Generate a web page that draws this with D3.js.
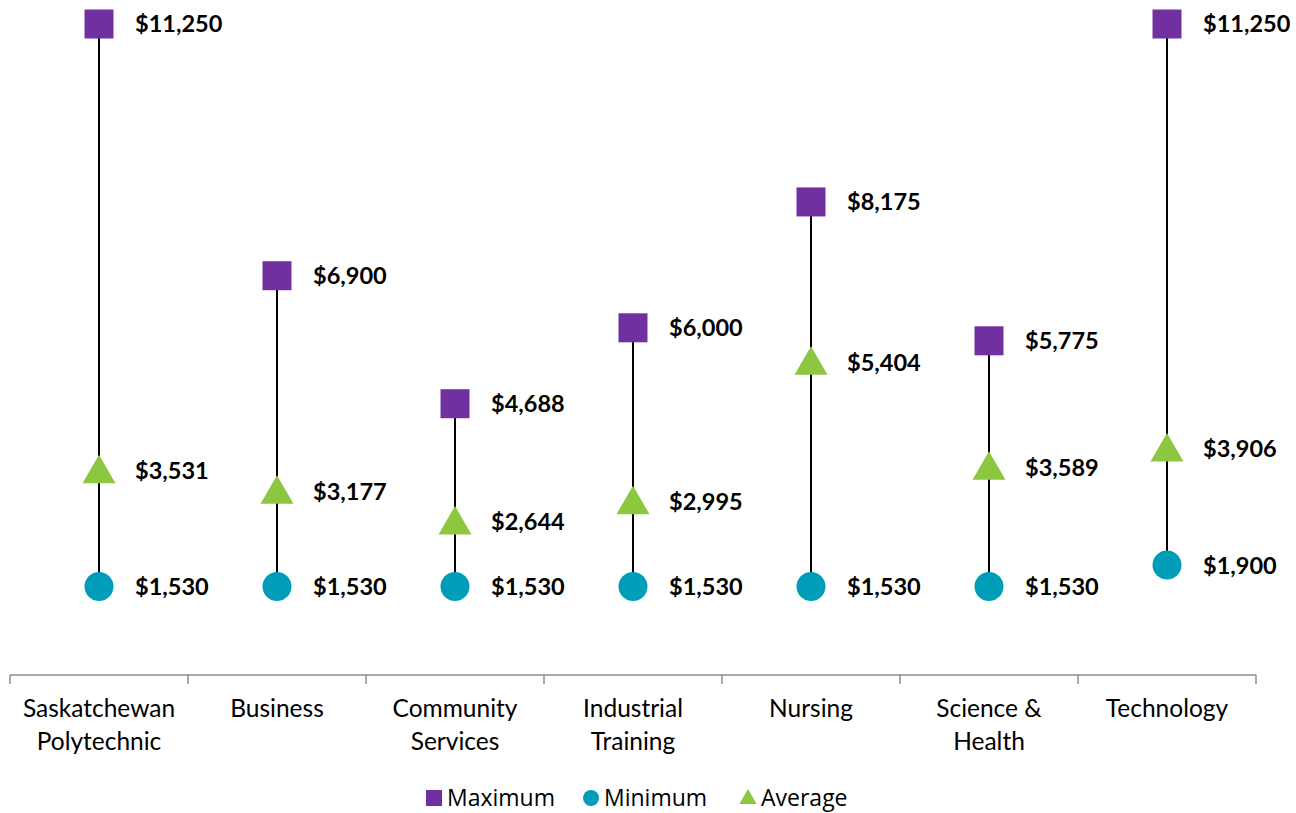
<!DOCTYPE html>
<html>
<head>
<meta charset="utf-8">
<script src="https://cdn.jsdelivr.net/npm/d3@7"></script>
<style>
  body { margin: 0; background: #fff; }
  svg text { font-family: Lato, "Open Sans", sans-serif; }
</style>
</head>
<body>
<svg id="chart" width="1296" height="813"></svg>
<script>
// chart data
const categories = ["Saskatchewan Polytechnic", "Business", "Community Services", "Industrial Training", "Nursing", "Science & Health", "Technology"];
const categoryLines = [["Saskatchewan", "Polytechnic"], ["Business"], ["Community", "Services"], ["Industrial", "Training"], ["Nursing"], ["Science &", "Health"], ["Technology"]];
const maximum = [11250, 6900, 4688, 6000, 8175, 5775, 11250];
const minimum = [1530, 1530, 1530, 1530, 1530, 1530, 1900];
const average = [3531, 3177, 2644, 2995, 5404, 3589, 3906];
const seriesNames = ["Maximum", "Minimum", "Average"];

const colors = {Maximum: "#7030A0", Minimum: "#009DB8", Average: "#8DC63F"};
const symbols = {Maximum: d3.symbolSquare, Minimum: d3.symbolCircle, Average: d3.symbolTriangle};

const svg = d3.select("#chart");
const margin = {left: 10, right: 40, top: 24, bottom: 138};
const width = 1296, height = 813;

const x = d3.scaleBand().domain(categories).range([margin.left, width - margin.right]).padding(0);
const y = d3.scaleLinear().domain([0, 11250]).range([675, 24]);

const fmt = v => "$" + d3.format(",")(v);

// x axis
const xAxis = svg.append("g").attr("transform", `translate(0,${y(0)})`);
xAxis.append("line")
  .attr("x1", x.range()[0]).attr("x2", x.range()[1])
  .attr("stroke", "#8c8c8c").attr("stroke-width", 1.5);
const tickX = categories.map(c => x(c)).concat([x.range()[1]]);
xAxis.selectAll("line.tick").data(tickX).join("line")
  .attr("class", "tick")
  .attr("x1", d => d).attr("x2", d => d)
  .attr("y1", 0).attr("y2", 9)
  .attr("stroke", "#8c8c8c").attr("stroke-width", 1.5);

const labels = xAxis.selectAll("text.cat").data(categories).join("text")
  .attr("class", "cat")
  .attr("x", d => x(d) + x.bandwidth() / 2)
  .attr("y", 42)
  .attr("text-anchor", "middle")
  .attr("font-size", 24.5)
  .attr("fill", "#000");
labels.each(function(d, i) {
  d3.select(this).selectAll("tspan").data(categoryLines[i]).join("tspan")
    .attr("x", x(d) + x.bandwidth() / 2)
    .attr("dy", (t, j) => j === 0 ? 0 : 33)
    .text(t => t);
});

// range lines
const rows = categories.map((c, i) => ({cat: c, Maximum: maximum[i], Minimum: minimum[i], Average: average[i]}));
const cx = d => x(d.cat) + x.bandwidth() / 2;

svg.append("g").selectAll("line").data(rows).join("line")
  .attr("x1", cx).attr("x2", cx)
  .attr("y1", d => y(d.Minimum)).attr("y2", d => y(d.Maximum))
  .attr("stroke", "#000").attr("stroke-width", 2);

// markers + value labels
const sizes = {Maximum: 29 * 29, Minimum: Math.PI * 14.5 * 14.5, Average: 470};
seriesNames.forEach(name => {
  const g = svg.append("g");
  g.selectAll("path").data(rows).join("path")
    .attr("transform", d => `translate(${cx(d)},${y(d[name]) + (name === "Average" ? 3 : 0)})`)
    .attr("d", d3.symbol(symbols[name], sizes[name]))
    .attr("fill", colors[name]);
  g.selectAll("text").data(rows).join("text")
    .attr("x", d => cx(d) + 36)
    .attr("y", d => y(d[name]))
    .attr("dy", "0.36em")
    .attr("font-size", 23.5)
    .attr("font-weight", "bold")
    .attr("fill", "#000")
    .text(d => fmt(d[name]));
});

// legend
const legend = svg.append("g").attr("transform", "translate(0,798)");
const legendPos = [426, 583, 740];
const legendSizes = {Maximum: 256, Minimum: 200, Average: 130};
seriesNames.forEach((name, i) => {
  const lg = legend.append("g").attr("transform", `translate(${legendPos[i]},0)`);
  lg.append("path")
    .attr("transform", `translate(8,${name === "Average" ? 1 : 0})`)
    .attr("d", d3.symbol(symbols[name], legendSizes[name]))
    .attr("fill", colors[name]);
  lg.append("text")
    .attr("x", 21).attr("dy", "0.36em")
    .attr("font-size", 23)
    .style("font-family", "'Open Sans', sans-serif")
    .attr("fill", "#000")
    .text(name);
});
</script>
</body>
</html>
